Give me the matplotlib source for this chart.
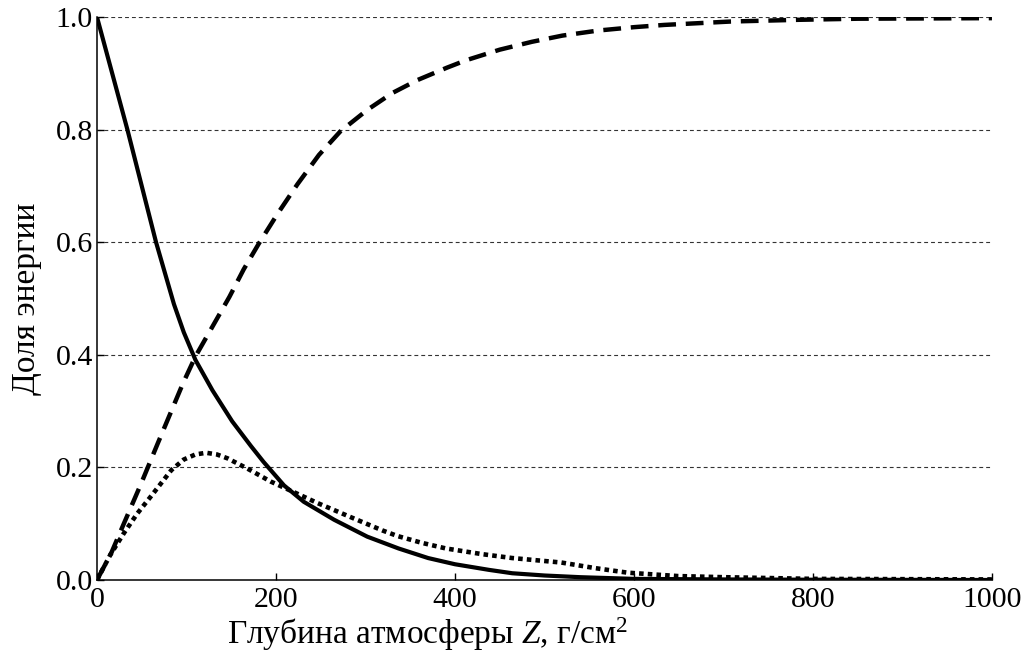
import numpy as np
import matplotlib
matplotlib.use('Agg')
import matplotlib.pyplot as plt

plt.rcParams['font.family'] = ['Liberation Serif', 'DejaVu Serif']
plt.rcParams['mathtext.fontset'] = 'custom'
plt.rcParams['mathtext.rm'] = 'Liberation Serif'
plt.rcParams['mathtext.it'] = 'Liberation Serif:italic'

# solid curve
x_solid = [0, 17, 34, 50, 66, 76, 86, 97, 110, 129, 151, 172, 186, 209, 231, 265,
           302, 337, 370, 400, 438, 464, 500, 540, 600, 700, 800, 1000]
y_solid = [1.0, 0.9, 0.8, 0.70, 0.6, 0.545, 0.49, 0.44, 0.391, 0.337, 0.282,
           0.238, 0.21, 0.168, 0.139, 0.107, 0.077, 0.056, 0.039, 0.028, 0.018,
           0.012, 0.008, 0.005, 0.002, 0.001, 0.0005, 0.0]

# dashed curve
x_dash = [0, 16, 30, 49, 68, 96, 110, 129, 148, 164, 181, 202, 224, 248, 272,
          302, 330, 358, 391, 412, 450, 486, 520, 560, 600, 634, 708, 782, 850,
          1000]
y_dash = [0.0, 0.048, 0.10, 0.17, 0.243, 0.349, 0.397, 0.45, 0.503, 0.552, 0.598,
          0.651, 0.703, 0.755, 0.797, 0.835, 0.865, 0.888, 0.91, 0.923, 0.942,
          0.956, 0.967, 0.976, 0.982, 0.986, 0.992, 0.995, 0.997, 0.998]

# dotted curve
x_dot = [0, 15, 30, 45, 60, 83, 97, 110, 122, 134, 146, 168, 194, 216, 246,
         283, 319, 336, 363, 390, 430, 464, 519, 557, 593, 649, 700, 800, 1000]
y_dot = [0.0, 0.045, 0.083, 0.118, 0.148, 0.195, 0.214, 0.223, 0.226, 0.223,
         0.216, 0.198, 0.175, 0.159, 0.137, 0.112, 0.088, 0.078, 0.066, 0.056,
         0.046, 0.039, 0.031, 0.021, 0.013, 0.007, 0.005, 0.002, 0.001]

xticks = [0, 200, 400, 600, 800, 1000]
yticks = [0.0, 0.2, 0.4, 0.6, 0.8, 1.0]

fig = plt.figure(figsize=(10.24, 6.55), dpi=100, facecolor='white')
ax = fig.add_axes([0.0947, 0.1145, 0.874, 0.8595])

for yv in yticks[1:]:
    ax.axhline(yv, color='#333333', lw=0.8, ls=(0, (3.5, 2.7)), zorder=1)

ax.plot(x_solid, y_solid, color='black', lw=3, solid_joinstyle='round', zorder=3)
ax.plot(x_dash, y_dash, color='black', lw=3.2, ls=(0, (4, 2.2)),
        dash_capstyle='butt', zorder=3)
ax.plot(x_dot, y_dot, color='black', lw=3.3, ls=(0, (1, 0.9)),
        dash_capstyle='butt', zorder=3)

ax.set_xlim(0, 1000)
ax.set_ylim(0, 1.0)
ax.set_xticks(xticks)
ax.set_yticks(yticks)
ax.set_yticklabels([f'{v:.1f}' for v in yticks])
ax.tick_params(direction='in', length=5, width=1, labelsize=21.5)
ax.tick_params(axis='x', pad=5)
ax.tick_params(axis='y', pad=3)
for s in ['top', 'right']:
    ax.spines[s].set_visible(False)
for s in ['left', 'bottom']:
    ax.spines[s].set_linewidth(1.1)
ax.patch.set_alpha(0)

ax.set_ylabel('Доля энергии', fontsize=24, labelpad=10)
ax.set_xlabel(r'Глубина атмосферы $Z$, г/см$^2$', fontsize=24)
ax.xaxis.set_label_coords(0.369, -0.062)

fig.savefig('out.png', dpi=100, facecolor='white')
